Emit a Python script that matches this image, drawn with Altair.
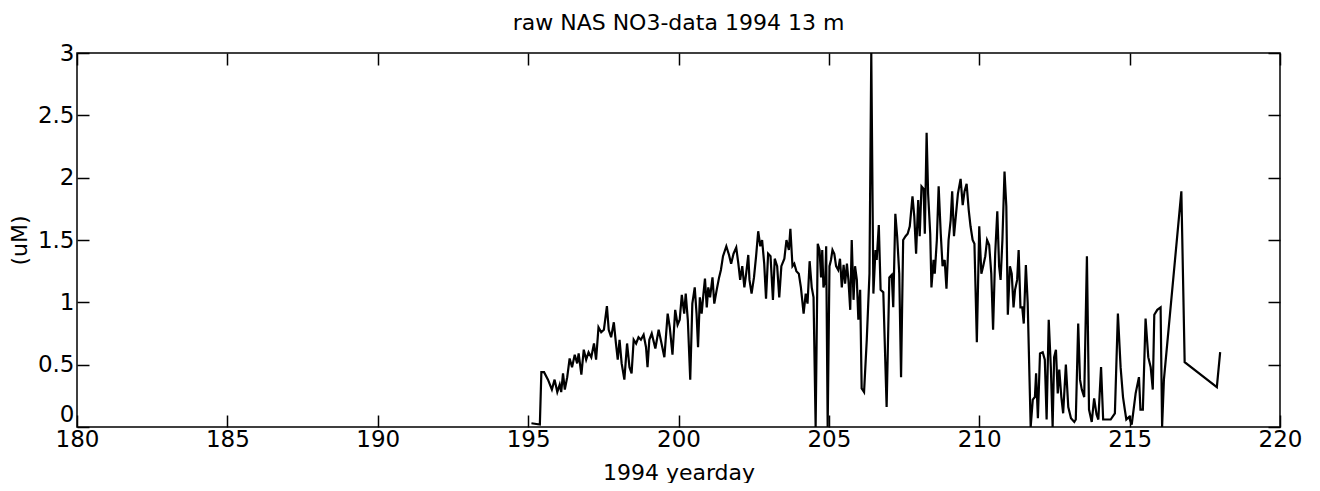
import altair as alt
import pandas as pd

TITLE = "raw NAS NO3-data 1994 13 m"
X_TITLE = "1994 yearday"
Y_TITLE = "(uM)"
X_TICKS = [180, 185, 190, 195, 200, 205, 210, 215, 220]
Y_TICKS = [0, 0.5, 1, 1.5, 2, 2.5, 3]

days = [
    195.11, 195.39, 195.44, 195.53, 195.66, 195.79, 195.88, 195.97, 196.05, 196.10,
    196.16, 196.22, 196.30, 196.38, 196.46, 196.55, 196.63, 196.68, 196.77, 196.85,
    196.93, 197.01, 197.10, 197.19, 197.26, 197.34, 197.43, 197.52, 197.62, 197.68,
    197.76, 197.85, 197.92, 197.98, 198.04, 198.11, 198.20, 198.29, 198.37, 198.44,
    198.51, 198.59, 198.67, 198.75, 198.84, 198.92, 198.97, 199.03, 199.11,
    199.23, 199.34, 199.41, 199.53, 199.64, 199.71, 199.80, 199.89, 199.97, 200.04,
    200.11, 200.19, 200.24, 200.31, 200.39, 200.46, 200.54, 200.60, 200.65, 200.71,
    200.77, 200.83, 200.88, 200.94, 200.99, 201.05, 201.13, 201.19, 201.27, 201.35,
    201.41, 201.48, 201.59, 201.68, 201.75, 201.83, 201.92, 201.99, 202.05, 202.12,
    202.19, 202.25, 202.32, 202.36, 202.43, 202.51, 202.58, 202.65, 202.72, 202.78,
    202.85, 202.91, 202.98, 203.06, 203.14, 203.20, 203.28, 203.35, 203.42,
    203.52, 203.59, 203.67, 203.72, 203.79, 203.85, 203.92, 204.00, 204.07, 204.16,
    204.23, 204.29, 204.36, 204.43, 204.49, 204.56, 204.63, 204.69, 204.74, 204.78,
    204.82, 204.88, 204.91, 204.96, 205.02, 205.07, 205.12, 205.18, 205.24, 205.31,
    205.37, 205.43, 205.49, 205.54, 205.60, 205.65, 205.71, 205.76, 205.82, 205.87,
    205.93, 205.98, 206.04, 206.09, 206.17, 206.26, 206.35, 206.41, 206.48, 206.55,
    206.59, 206.66, 206.72, 206.81, 206.92, 207.01, 207.09, 207.14, 207.21, 207.27,
    207.34, 207.40, 207.47,
    207.55, 207.62, 207.69, 207.78, 207.84, 207.90, 207.97, 208.02, 208.08, 208.15,
    208.19, 208.25, 208.30, 208.37, 208.41, 208.48, 208.52, 208.59, 208.65, 208.72,
    208.78, 208.85, 208.91, 208.98, 209.05, 209.10, 209.16, 209.22, 209.29, 209.38,
    209.45, 209.51, 209.58, 209.65, 209.71, 209.78, 209.84, 209.92, 210.00, 210.07,
    210.13, 210.20, 210.26, 210.33, 210.40, 210.46, 210.53, 210.60, 210.66, 210.71,
    210.77, 210.84, 210.90, 210.95, 211.02, 211.08, 211.14, 211.19, 211.26, 211.31,
    211.37, 211.43, 211.48, 211.55, 211.61, 211.71,
    211.78, 211.85, 211.89, 211.95, 212.02, 212.11, 212.18, 212.24, 212.31, 212.38,
    212.44, 212.49, 212.55, 212.61, 212.66, 212.73, 212.79, 212.88, 212.96, 213.05,
    213.16, 213.21, 213.29, 213.35, 213.41, 213.49, 213.58, 213.65, 213.74, 213.82,
    213.90, 213.96, 214.05, 214.12, 214.21, 214.37, 214.51, 214.61, 214.70, 214.78,
    214.84, 214.89, 214.98, 215.07, 215.20, 215.31, 215.36, 215.44, 215.53, 215.62,
    215.70, 215.77, 215.82, 215.92, 216.03, 216.08, 216.14, 216.72, 216.83, 217.90,
    218.01,
]

values = [
    0.03, 0.02, 0.44, 0.44, 0.38, 0.30, 0.38, 0.28, 0.34, 0.28,
    0.43, 0.30, 0.40, 0.55, 0.48, 0.58, 0.51, 0.59, 0.42, 0.62,
    0.54, 0.60, 0.56, 0.67, 0.54, 0.80, 0.76, 0.78, 0.97, 0.78,
    0.72, 0.84, 0.67, 0.54, 0.70, 0.51, 0.38, 0.67, 0.48, 0.43,
    0.70, 0.67, 0.72, 0.70, 0.74, 0.64, 0.48, 0.70, 0.75,
    0.63, 0.78, 0.70, 0.56, 0.91, 0.80, 0.58, 0.94, 0.82, 0.86,
    1.06, 0.91, 1.07, 0.86, 0.38, 0.99, 1.12, 0.91, 0.64, 1.04,
    0.91, 1.07, 1.19, 0.96, 1.12, 1.04, 1.20, 0.99, 1.10, 1.20,
    1.26, 1.37, 1.45, 1.38, 1.31, 1.39, 1.44, 1.31, 1.18, 1.29,
    1.12, 1.23, 1.38, 1.18, 1.07, 1.20, 1.37, 1.57, 1.45, 1.50,
    1.31, 1.03, 1.39, 1.37, 1.02, 1.35, 1.29, 1.04, 1.29,
    1.35, 1.50, 1.42, 1.59, 1.29, 1.31, 1.25, 1.23, 1.12, 0.91,
    1.07, 0.99, 1.33, 1.12, 1.04, 0.0, 1.47, 1.42, 1.20, 1.42,
    1.12, 1.18, 1.45, 0.0, 1.29, 1.34, 1.42, 1.39, 1.29, 1.26,
    1.35, 1.12, 1.30, 1.15, 1.31, 1.18, 0.94, 1.50, 1.02, 1.29,
    1.18, 0.86, 1.10, 0.31, 0.28, 0.70, 1.23, 3.0, 1.07, 1.42,
    1.34, 1.62, 1.10, 1.08, 0.16, 1.20, 1.22, 0.96, 1.71, 1.53,
    1.23, 0.40, 1.50,
    1.53, 1.55, 1.61, 1.85, 1.69, 1.39, 1.82, 1.53, 1.93, 1.91,
    1.55, 2.36, 1.87, 1.55, 1.12, 1.34, 1.23, 1.50, 1.93, 1.55,
    1.29, 1.34, 1.11, 1.50, 1.66, 1.89, 1.53, 1.69, 1.87, 1.99,
    1.78, 1.89, 1.95, 1.74, 1.61, 1.50, 1.47, 0.68, 1.61, 1.23,
    1.29, 1.37, 1.50, 1.46, 1.23, 0.78, 1.39, 1.73, 1.29, 1.18,
    1.50, 2.05, 1.77, 0.90, 1.29, 1.23, 0.96, 1.10, 1.18, 1.42,
    0.96, 0.96, 0.83, 1.30, 1.00, 0.0,
    0.22, 0.24, 0.43, 0.07, 0.59, 0.60, 0.54, 0.06, 0.86, 0.48,
    0.0, 0.56, 0.62, 0.27, 0.46, 0.24, 0.11, 0.50, 0.16, 0.07,
    0.04, 0.06, 0.83, 0.38, 0.30, 0.24, 1.37, 0.14, 0.04, 0.23,
    0.10, 0.06, 0.48, 0.06, 0.06, 0.06, 0.11, 0.91, 0.48, 0.24,
    0.14, 0.06, 0.08, 0.02, 0.27, 0.40, 0.14, 0.14, 0.87, 0.56,
    0.48, 0.30, 0.90, 0.94, 0.96, 0.0, 0.38, 1.89, 0.52, 0.32,
    0.60,
]

df = pd.DataFrame({"day": days, "value": values})

FONT = "DejaVu Sans"
TICK = 12

xscale = alt.Scale(domain=[180, 220], nice=False, zero=False)
yscale = alt.Scale(domain=[0, 3], nice=False, zero=False)

main = alt.Chart(df).mark_line(color="black", strokeWidth=2.2, clip=True).encode(
    x=alt.X("day:Q", scale=xscale,
            axis=alt.Axis(orient="bottom", values=X_TICKS, offset=-TICK, tickSize=TICK,
                          domain=False, labelPadding=1, labelFlush=False,
                          labelOverlap=False, title=X_TITLE, titlePadding=11, format="d")),
    y=alt.Y("value:Q", scale=yscale,
            axis=alt.Axis(orient="left", values=Y_TICKS, offset=-TICK, tickSize=TICK,
                          domain=False, labelPadding=3, labelFlush=False,
                          labelOverlap=False, title=Y_TITLE, titlePadding=6, format=".1~f",
                          labelOffset={"condition": {"test": "datum.value == 0", "value": -13},
                                       "value": 0})),
    order="day:Q",
)

mirror = alt.Chart(df).mark_line(strokeOpacity=0).encode(
    x=alt.X("day:Q", scale=xscale,
            axis=alt.Axis(orient="top", values=X_TICKS, offset=-TICK, tickSize=TICK,
                          domain=False, labels=False, title=None)),
    y=alt.Y("value:Q", scale=yscale,
            axis=alt.Axis(orient="right", values=Y_TICKS, offset=-TICK, tickSize=TICK,
                          domain=False, labels=False, title=None)),
)

chart = alt.layer(main, mirror).resolve_axis(
    x="independent", y="independent"
).properties(
    width=1203,
    height=374,
    title=alt.TitleParams(TITLE, font=FONT, fontSize=22, fontWeight="normal",
                          anchor="middle", color="black", offset=7),
    autosize=alt.AutoSizeParams(type="none"),
    padding={"left": 69, "top": 45, "right": 30, "bottom": 56},
    background="white",
).configure_view(
    stroke="black", strokeWidth=1.5
).configure_axis(
    tickColor="black", tickWidth=1.5, labelColor="black", labelFont=FONT,
    labelFontSize=23, titleFont=FONT, titleFontSize=22, titleFontWeight="normal",
    titleColor="black", grid=False,
)

chart.save("out.html", embed_options={"renderer": "svg", "actions": False})
